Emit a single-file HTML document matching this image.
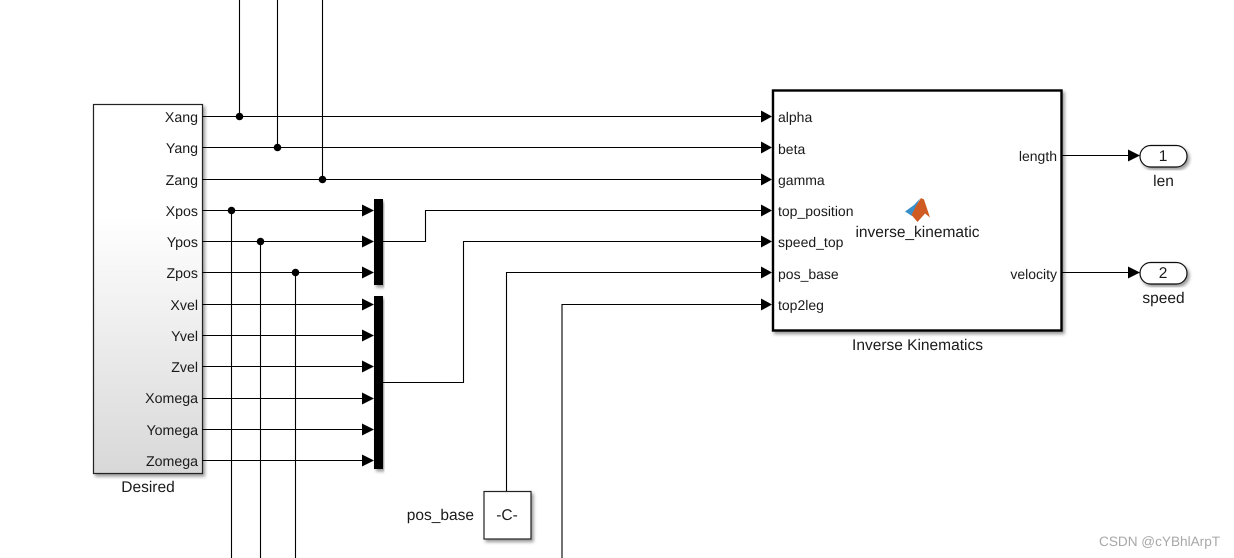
<!DOCTYPE html>
<html><head><meta charset="utf-8"><style>
html,body{margin:0;padding:0;background:#fff;width:1234px;height:558px;overflow:hidden}
svg{display:block}
text{font-family:"Liberation Sans",sans-serif;fill:#1a1a1a;font-size:14px;text-rendering:geometricPrecision}
.r{text-anchor:end}.m{text-anchor:middle}
.b{font-size:15.5px}
.d{font-size:14.2px}
.w{stroke:#000;stroke-width:1.1;fill:none}
</style></head><body>
<svg width="1234" height="558" viewBox="0 0 1234 558" xmlns="http://www.w3.org/2000/svg">
<defs>
<linearGradient id="g" x1="0" y1="0" x2="0" y2="1"><stop offset="0.3" stop-color="#fff"/><stop offset="1" stop-color="#d8d8d8"/></linearGradient>
<filter id="s" x="-10%" y="-10%" width="125%" height="125%"><feDropShadow dx="2" dy="2.5" stdDeviation="1.5" flood-color="#000" flood-opacity="0.4"/></filter>
</defs>
<!-- blocks -->
<rect x="93.5" y="104.5" width="109" height="369" fill="url(#g)" stroke="#222" stroke-width="1.2" filter="url(#s)"/>
<rect x="773" y="90.5" width="288.5" height="240" fill="#fff" stroke="#000" stroke-width="2.4" filter="url(#s)"/>
<rect x="374" y="199" width="9" height="86" fill="#000" filter="url(#s)"/>
<rect x="374" y="296" width="9" height="173" fill="#000" filter="url(#s)"/>
<rect x="484" y="491.5" width="47" height="47.5" fill="#fff" stroke="#222" stroke-width="1.2" filter="url(#s)"/>
<rect x="1140" y="145.5" width="47" height="21.5" rx="10.7" fill="#fff" stroke="#111" stroke-width="1.2" filter="url(#s)"/>
<rect x="1140" y="262.5" width="47" height="21.5" rx="10.7" fill="#fff" stroke="#111" stroke-width="1.2" filter="url(#s)"/>
<!-- wires -->
<path class="w" d="M202 116.5H762M202 147.5H762M202 179.5H762M239.5 0V116.5M277.5 0V147.5M322.5 0V179.5
M202 210.5H363M202 241.5H363M202 272.5H363M202 304.5H363M202 335.5H363M202 366.5H363M202 398.5H363M202 429.5H363M202 460.5H363
M231.5 210.5V558M260.5 241.5V558M295.5 272.5V558
M383 241.5H425.5V210.5H762M383 382.5H463.5V241.5H762M506.5 491V272.5H762M562 558V304.5H762
M1062 155.5H1129M1062 272.5H1129"/>
<!-- dots -->
<g fill="#000"><circle cx="239.5" cy="116.5" r="3.8"/><circle cx="277.5" cy="147.5" r="3.8"/><circle cx="322.5" cy="179.5" r="3.8"/><circle cx="231.5" cy="210.5" r="3.8"/><circle cx="260.5" cy="241.5" r="3.8"/><circle cx="295.5" cy="272.5" r="3.8"/>
<!-- arrowheads -->
<path d="M362 204.5L374 210.5L362 216.5ZM362 235.5L374 241.5L362 247.5ZM362 266.5L374 272.5L362 278.5ZM362 298.5L374 304.5L362 310.5ZM362 329.5L374 335.5L362 341.5ZM362 360.5L374 366.5L362 372.5ZM362 392.5L374 398.5L362 404.5ZM362 423.5L374 429.5L362 435.5ZM362 454.5L374 460.5L362 466.5Z"/>
<path d="M761 110.5L772 116.5L761 122.5ZM761 141.5L772 147.5L761 153.5ZM761 173.5L772 179.5L761 185.5ZM761 204.5L772 210.5L761 216.5ZM761 235.5L772 241.5L761 247.5ZM761 266.5L772 272.5L761 278.5ZM761 298.5L772 304.5L761 310.5Z"/>
<path d="M1128 149.5L1140 155.5L1128 161.5ZM1128 266.5L1140 272.5L1128 278.5Z"/></g>
<!-- Desired labels -->
<text class="r d" x="198" y="122">Xang</text><text class="r d" x="198" y="153">Yang</text><text class="r d" x="198" y="185">Zang</text><text class="r d" x="198" y="216">Xpos</text><text class="r d" x="198" y="247">Ypos</text><text class="r d" x="198" y="278">Zpos</text><text class="r d" x="198" y="310">Xvel</text><text class="r d" x="198" y="341">Yvel</text><text class="r d" x="198" y="372">Zvel</text><text class="r d" x="198" y="403">Xomega</text><text class="r d" x="198" y="435">Yomega</text><text class="r d" x="198" y="466">Zomega</text>
<text class="m b" x="148" y="492">Desired</text>
<!-- IK labels -->
<text x="778" y="122">alpha</text><text x="778" y="154">beta</text><text x="778" y="185">gamma</text><text x="778" y="216">top_position</text><text x="778" y="247">speed_top</text><text x="778" y="279">pos_base</text><text x="778" y="310">top2leg</text>
<text class="r" x="1057" y="161">length</text><text class="r" x="1057" y="279">velocity</text>
<text class="m b" x="917.5" y="237">inverse_kinematic</text>
<text class="m b" x="917.5" y="350">Inverse Kinematics</text>
<!-- MATLAB logo -->
<path d="M905 211.5L914 205L920 198.5L916 207L912 216Z" fill="#3a8fc9"/>
<path d="M911.5 215L916 206L921 198L924 199.5L930 217.5L925 213.5L917.5 222Z" fill="#cf5a22"/>
<!-- outports -->
<text class="m b" x="1163" y="161">1</text><text class="m b" x="1163" y="278">2</text>
<text class="m b" x="1163.5" y="186">len</text><text class="m b" x="1163.5" y="303">speed</text>
<!-- constant -->
<text class="m b" x="507" y="520">-C-</text>
<text class="r b" x="474" y="520">pos_base</text>
<text x="1099" y="546" style="font-size:13.6px;fill:#a8a8a8">CSDN @cYBhlArpT</text>
</svg>
</body></html>
